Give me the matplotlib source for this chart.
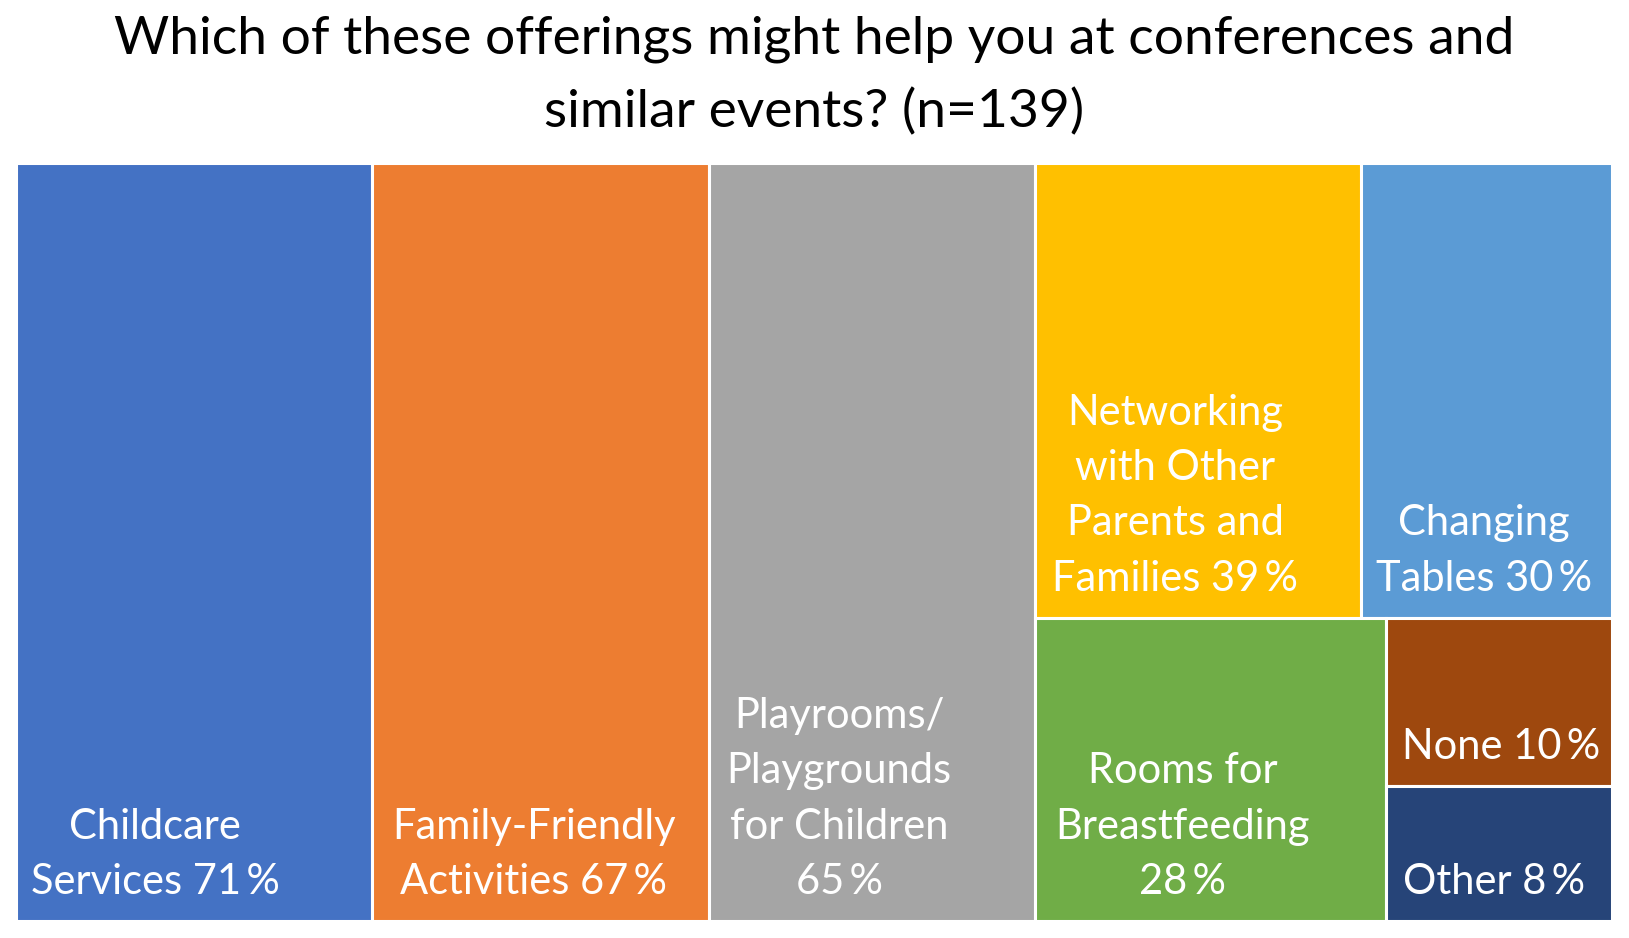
import matplotlib
matplotlib.use("Agg")
import matplotlib.pyplot as plt
from matplotlib.patches import Rectangle

# ---- data ----
categories = ["Childcare\nServices", "Family-Friendly\nActivities",
              "Playrooms/\nPlaygrounds\nfor Children",
              "Networking\nwith Other\nParents and\nFamilies",
              "Changing\nTables", "Rooms for\nBreastfeeding", "None", "Other"]
values = [71, 67, 65, 39, 30, 28, 10, 8]
title_lines = ["Which of these offerings might help you at conferences and",
               "similar events? (n=139)"]

# ---- style ----
colors = ["#4472C4", "#ED7D31", "#A5A5A5", "#FFC000", "#5B9BD5",
          "#70AD47", "#9E480E", "#264478"]
pct_sep = [" ", " ", "\n", " ", " ", "\n", " ", " "]
label_xfrac = [0.39, 0.48, 0.40, 0.43, 0.49, 0.42, 0.51, 0.48]
FONT = ["Lato", "DejaVu Sans"]

# tree structure of the treemap ('h' = side by side, 'v' = stacked)
tree = ("h", [0, 1, 2, ("v", [("h", [3, 4]), ("h", [5, ("v", [6, 7])])])])


def node_value(n):
    if isinstance(n, int):
        return values[n]
    return sum(node_value(c) for c in n[1])


def layout(n, x, y, w, h, out):
    if isinstance(n, int):
        out[n] = (x, y, w, h)
        return
    d, children = n
    tot = node_value(n)
    if d == "h":
        cx = x
        for c in children:
            cw = w * node_value(c) / tot
            layout(c, cx, y, cw, h, out)
            cx += cw
    else:
        cy = y + h
        for c in children:
            ch = h * node_value(c) / tot
            cy -= ch
            layout(c, x, cy, w, ch, out)


W, H = 1629, 938
fig = plt.figure(figsize=(W / 100, H / 100), dpi=100)
ax = fig.add_axes([16 / W, 17 / H, 1596 / W, 758 / H])
ax.set_xlim(0, 1)
ax.set_ylim(0, 1)
ax.axis("off")

rects = {}
layout(tree, 0, 0, 1, 1, rects)

for i in range(len(values)):
    x, y, w, h = rects[i]
    ax.add_patch(Rectangle((x, y), w, h, facecolor=colors[i],
                           edgecolor="white", linewidth=2.2, clip_on=False))
    label = f"{categories[i]}{pct_sep[i]}{values[i]}\u2009%"
    ax.annotate(label, xy=(x + w * label_xfrac[i], y), xytext=(0, 20),
                textcoords="offset pixels", ha="center", va="bottom",
                multialignment="center", color="white", fontsize=30,
                family=FONT, linespacing=1.56)

fig.text(0.5, 1 - 39 / H, title_lines[0], ha="center", va="center",
         fontsize=38.4, family=FONT, color="black")
fig.text(0.5, 1 - 112 / H, title_lines[1], ha="center", va="center",
         fontsize=38.4, family=FONT, color="black")

fig.savefig("out.png", dpi=100, facecolor="white")
